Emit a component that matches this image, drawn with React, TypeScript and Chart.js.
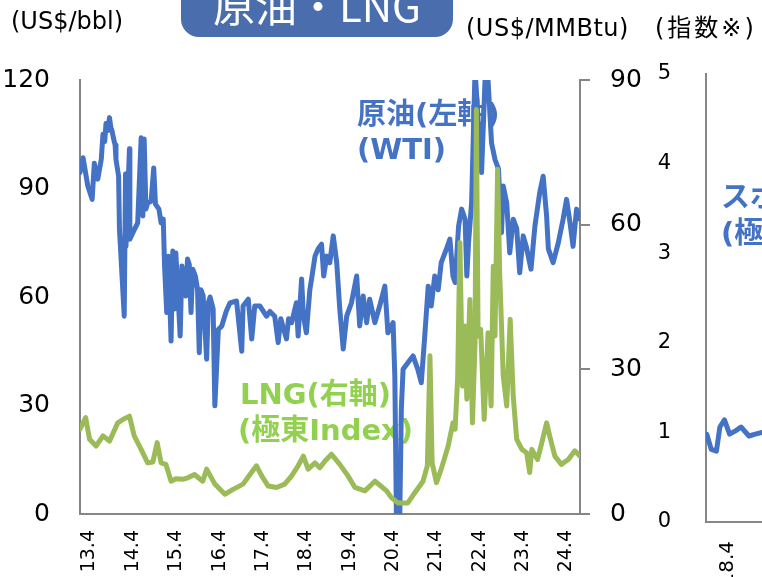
import React, { useEffect, useRef } from 'react';
import { Chart, registerables } from 'chart.js';
Chart.register(...registerables);

// ---------- data ----------
const xTickPositions = [13.25, 14.25, 15.25, 16.25, 17.25, 18.25, 19.25, 20.25, 21.25, 22.25, 23.25, 24.25];
const xTickLabels = ['13.4', '14.4', '15.4', '16.4', '17.4', '18.4', '19.4', '20.4', '21.4', '22.4', '23.4', '24.4'];

const wtiDates = [
  13.03, 13.10, 13.21, 13.31, 13.36, 13.44, 13.52, 13.56, 13.60, 13.63, 13.67, 13.71, 13.74, 13.77, 13.80,
  13.84, 13.86, 13.92, 13.94,
  14.05, 14.08, 14.09, 14.17, 14.18, 14.25, 14.36, 14.44, 14.48, 14.51, 14.55, 14.59, 14.67, 14.73, 14.77,
  14.85, 14.90, 14.95, 14.98, 15.03, 15.07, 15.13, 15.17, 15.21, 15.24, 15.34, 15.38, 15.47, 15.51, 15.55,
  15.59, 15.63, 15.69, 15.74, 15.78, 15.82, 15.87, 15.95, 15.99, 16.03, 16.10, 16.14, 16.22, 16.30, 16.40,
  16.49, 16.64, 16.76, 16.79, 16.91, 16.99, 17.06, 17.18, 17.33, 17.41, 17.52, 17.60, 17.66, 17.79, 17.84,
  17.91, 18.02, 18.06, 18.14, 18.18, 18.25, 18.33, 18.38, 18.45, 18.52, 18.60, 18.65, 18.72, 18.79, 18.87,
  18.95, 19.02, 19.10, 19.18, 19.29, 19.41, 19.48, 19.56, 19.64, 19.71, 19.83, 19.94, 20.06, 20.13, 20.25,
  20.29, 20.36, 20.44, 20.48, 20.59, 20.71, 20.82, 20.90, 20.98, 21.06, 21.13, 21.21, 21.29, 21.36, 21.48,
  21.56, 21.63, 21.68, 21.76, 21.83, 21.91, 21.95, 21.99, 22.06, 22.14, 22.22, 22.29, 22.37, 22.43, 22.52,
  22.60, 22.68, 22.75, 22.79, 22.87, 22.94, 23.02, 23.10, 23.17, 23.25, 23.32, 23.43, 23.52, 23.63, 23.71,
  23.79, 23.83, 23.94, 24.06, 24.17, 24.25, 24.33, 24.40, 24.48, 24.56,
];
const wtiValues = [
  94.4, 98.5, 90.7, 87, 97, 92.6, 98, 105, 103, 108, 106, 109.6, 107, 105.9, 104,
  102, 98, 93.4, 78.8,
  54.7, 94, 74, 101, 76, 77.8, 80.5, 104, 82.4, 103.7, 84.3, 86, 86.5, 95.7, 85.7,
  84.3, 80.5, 81.5, 68.6, 55.7, 71.3, 47.8, 72.7, 56.7, 72.2, 49.2, 68.6, 60.3, 70.5, 69,
  55.7, 67.7, 65.8, 62.2, 44.6, 62, 60.3, 42.8, 58.4, 60, 56.7, 29.9, 51, 52, 56,
  58.4, 58.9, 45, 57.5, 59.4, 48.4, 57.5, 57.5, 54.7, 56, 54.7, 47.4, 54, 48.4, 54,
  52.9, 58.4, 49.2, 65, 55, 50.1, 62, 65.8, 71.3, 73.3, 74.6, 65.8, 71.3, 69.5, 76.9,
  69.5, 56.7, 45.6, 54.7, 58.4, 65.8, 52, 60.3, 52.9, 59.4, 52.9, 57.5, 63, 50.1, 52.9,
  38, -37, 29, 40, 41.8, 43.7, 40, 36.3, 49.2, 63, 57.5, 65.8, 62, 69.5, 73.3,
  76, 65.8, 64, 79.6, 84.3, 81.5, 65.8, 75, 86, 123, 107, 94.4, 120, 122, 102.6,
  98, 95.4, 77.8, 90.7, 86, 72.2, 81.5, 79, 66.7, 76.9, 74, 67.7, 79.6, 88.8, 93.4,
  82.4, 73.3, 69.5, 75, 81.5, 87, 80.5, 74, 84.3, 81.5,
];

const lngDates = [
  13.03, 13.16, 13.25, 13.40, 13.56, 13.71, 13.90, 14.02, 14.17, 14.28, 14.44, 14.59, 14.71, 14.81, 14.90,
  15.01, 15.13, 15.24, 15.40, 15.52, 15.67, 15.86, 15.95, 16.14, 16.37, 16.56, 16.79, 16.95, 17.10, 17.22,
  17.37, 17.56, 17.75, 17.91, 18.06, 18.18, 18.29, 18.45, 18.56, 18.68, 18.83, 19.02, 19.21, 19.37, 19.60,
  19.83, 19.94, 20.10, 20.21, 20.36, 20.59, 20.75, 20.94, 21.04, 21.10, 21.15, 21.25, 21.36, 21.52, 21.63,
  21.68, 21.74, 21.79, 21.85, 21.91, 21.95, 22.02, 22.08, 22.14, 22.17, 22.21, 22.27, 22.35, 22.44, 22.51,
  22.56, 22.60, 22.66, 22.71, 22.79, 22.87, 22.95, 23.02, 23.10, 23.22, 23.33, 23.40, 23.45, 23.58, 23.66,
  23.79, 23.86, 23.98, 24.13, 24.29, 24.44, 24.56,
];
const lngValues = [
  17.6, 20, 15.5, 14.1, 16.2, 15.1, 18.9, 19.6, 20.3, 16.2, 13.4, 10.6, 10.8, 14.8, 10.6,
  10.3, 6.8, 7.3, 7.2, 7.5, 8.2, 6.8, 9.3, 6.2, 4.1, 5.1, 6.2, 8.2, 10, 7.9,
  5.8, 5.5, 6.2, 7.9, 10, 12, 9.3, 10.6, 9.6, 11, 12.4, 10.3, 7.9, 5.5, 4.8,
  6.8, 6, 4.8, 3.4, 2.3, 2.3, 4.4, 6.8, 10, 32.8, 10.6, 6.5, 9.3, 14.1, 18.9,
  17.6, 28.6, 56.3, 26.5, 39, 23.8, 44.5, 18.9, 35.5, 83.9, 36.9, 38.3, 19.6, 37.6, 22.4,
  51.4, 36.9, 71.5, 49.4, 28.6, 22.4, 40.4, 24.5, 15.5, 13.4, 12.7, 8.6, 13.4, 11.3, 14.1,
  18.9, 16.2, 12, 10.3, 11.3, 13.1, 12,
];

const idxTickPositions = [18.25, 19.25, 20.25, 21.25, 22.25];
const idxTickLabels = ['18.4', '19.4', '20.4', '21.4', '22.4'];
const idxDates = [17.88, 17.96, 18.05, 18.11, 18.19, 18.28, 18.39, 18.48, 18.62, 18.73, 18.85];
const idxValues = [0.98, 0.81, 0.79, 1.06, 1.14, 0.98, 1.02, 1.06, 0.96, 0.98, 1.0];

// ---------- styles ----------
const BLUE = '#4472C4';
const GREEN = '#9BBB59';
const GREEN_TEXT = '#92D050';
const AXIS = '#868686';
const NUM_FONT = '"DejaVu Sans", "Noto Sans CJK JP", sans-serif';
const JP_FONT = '"Noto Sans CJK JP", "DejaVu Sans", sans-serif';
const LABEL_FONT = `bold 29px "DejaVu Sans", "Noto Sans CJK JP", sans-serif`;

function drawText(ctx: CanvasRenderingContext2D, text: string, x: number, y: number, font: string, color: string, spacing = 0) {
  ctx.save();
  ctx.font = font;
  ctx.fillStyle = color;
  ctx.textAlign = 'left';
  ctx.textBaseline = 'middle';
  if (spacing) (ctx as any).letterSpacing = `${spacing}px`;
  ctx.fillText(text, x, y);
  ctx.restore();
}

const mainDecor = {
  id: 'mainDecor',
  beforeDatasetsDraw(chart: any) {
    const ctx = chart.ctx as CanvasRenderingContext2D;
    drawText(ctx, '原油(左軸)', 357, 116, LABEL_FONT, BLUE);
    drawText(ctx, '(WTI)', 357, 151, LABEL_FONT, BLUE);
    drawText(ctx, 'LNG(右軸)', 240, 396, LABEL_FONT, GREEN_TEXT);
    drawText(ctx, '(極東Index)', 238, 432, LABEL_FONT, GREEN_TEXT);
  },
  afterDraw(chart: any) {
    const ctx = chart.ctx as CanvasRenderingContext2D;
    ctx.save();
    ctx.fillStyle = '#4A6EAD';
    ctx.beginPath();
    (ctx as any).roundRect(181, -25, 272, 62, 18);
    ctx.fill();
    ctx.fillStyle = '#FFFFFF';
    ctx.font = `42px ${JP_FONT}`;
    ctx.textAlign = 'center';
    ctx.textBaseline = 'alphabetic';
    ctx.fillText('原油・LNG', 317, 22);
    ctx.restore();
    drawText(ctx, '(US$/bbl)', 11, 23, `24px ${NUM_FONT}`, '#000');
    drawText(ctx, '(US$/MMBtu)', 466, 30, `24px ${NUM_FONT}`, '#000', 0.5);
  },
};

const idxDecor = {
  id: 'idxDecor',
  beforeDatasetsDraw(chart: any) {
    const ctx = chart.ctx as CanvasRenderingContext2D;
    drawText(ctx, 'スポット', 121, 199, LABEL_FONT, BLUE);
    drawText(ctx, '(極東)', 121, 235, LABEL_FONT, BLUE);
  },
  afterDraw(chart: any) {
    const ctx = chart.ctx as CanvasRenderingContext2D;
    drawText(ctx, '(指数※)', 55, 30, `24px ${NUM_FONT}`, '#000', 3);
  },
};

export default function App() {
  const ref1 = useRef<HTMLCanvasElement | null>(null);
  const ref2 = useRef<HTMLCanvasElement | null>(null);

  useEffect(() => {
    document.body.style.margin = '0';
    const c1 = new Chart(ref1.current as HTMLCanvasElement, {
      type: 'line',
      data: {
        datasets: [
          {
            label: 'LNG',
            data: lngDates.map((d, i) => ({ x: d, y: lngValues[i] })),
            yAxisID: 'y2',
            borderColor: GREEN,
            borderWidth: 5,
            pointRadius: 0,
            tension: 0,
            borderJoinStyle: 'round',
            borderCapStyle: 'round',
          },
          {
            label: 'WTI',
            data: wtiDates.map((d, i) => ({ x: d, y: wtiValues[i] })),
            yAxisID: 'y',
            borderColor: BLUE,
            borderWidth: 5,
            pointRadius: 0,
            tension: 0,
            borderJoinStyle: 'round',
            borderCapStyle: 'round',
          },
        ],
      },
      options: {
        animation: false,
        responsive: false,
        devicePixelRatio: 1,
        layout: { padding: { top: 80, left: 0, right: 0, bottom: 0 } },
        plugins: { legend: { display: false }, tooltip: { enabled: false }, title: { display: false } },
        scales: {
          x: {
            type: 'linear',
            min: 13.03,
            max: 24.56,
            afterFit: (s: any) => { s.height = 63; },
            afterBuildTicks: (s: any) => { s.ticks = xTickPositions.map((v) => ({ value: v })); },
            grid: { display: false, drawTicks: false },
            border: { display: true, color: AXIS, width: 2 },
            ticks: {
              autoSkip: false,
              minRotation: 90,
              maxRotation: 90,
              padding: 16,
              color: '#000',
              font: { family: NUM_FONT, size: 19 },
              callback: (v: any) => xTickLabels[xTickPositions.indexOf(Number(v))] ?? '',
            },
          },
          y: {
            position: 'left',
            min: 0,
            max: 120,
            afterFit: (s: any) => { s.width = 80; },
            grid: { display: false, drawTicks: false },
            border: { display: true, color: AXIS, width: 2 },
            ticks: { stepSize: 30, padding: 30, color: '#000', font: { family: NUM_FONT, size: 25 } },
          },
          y2: {
            position: 'right',
            min: 0,
            max: 90,
            afterFit: (s: any) => { s.width = 182; },
            grid: { display: true, drawOnChartArea: false, drawTicks: true, tickLength: 10, color: AXIS, lineWidth: 2 },
            border: { display: true, color: AXIS, width: 2 },
            ticks: { stepSize: 30, padding: 20, color: '#000', font: { family: NUM_FONT, size: 25 } },
          },
        },
      },
      plugins: [mainDecor],
    } as any);

    const c2 = new Chart(ref2.current as HTMLCanvasElement, {
      type: 'line',
      data: {
        datasets: [
          {
            label: 'idx',
            data: idxDates.map((d, i) => ({ x: d, y: idxValues[i] })),
            borderColor: BLUE,
            borderWidth: 5,
            pointRadius: 0,
            tension: 0,
            borderJoinStyle: 'round',
            borderCapStyle: 'round',
          },
        ],
      },
      options: {
        animation: false,
        responsive: false,
        devicePixelRatio: 1,
        layout: { padding: { top: 74, left: 0, right: 10, bottom: 0 } },
        plugins: { legend: { display: false }, tooltip: { enabled: false }, title: { display: false } },
        scales: {
          x: {
            type: 'linear',
            min: 17.867,
            max: 22.6,
            afterFit: (s: any) => { s.height = 55; },
            afterBuildTicks: (s: any) => { s.ticks = idxTickPositions.map((v) => ({ value: v })); },
            grid: { display: false, drawTicks: false },
            border: { display: true, color: AXIS, width: 2 },
            ticks: {
              autoSkip: false,
              minRotation: 90,
              maxRotation: 90,
              padding: 19,
              color: '#000',
              font: { family: NUM_FONT, size: 20 },
              callback: (v: any) => idxTickLabels[idxTickPositions.indexOf(Number(v))] ?? '',
            },
          },
          y: {
            position: 'left',
            min: 0,
            max: 5,
            afterFit: (s: any) => { s.width = 106; },
            grid: { display: false, drawTicks: false },
            border: { display: true, color: AXIS, width: 2 },
            ticks: { stepSize: 1, padding: 35, color: '#000', font: { family: NUM_FONT, size: 21 } },
          },
        },
      },
      plugins: [idxDecor],
    } as any);

    return () => {
      c1.destroy();
      c2.destroy();
    };
  }, []);

  return (
    <div style={{ position: 'relative', width: 762, height: 577, overflow: 'hidden', background: '#fff' }}>
      <canvas ref={ref1} width={762} height={577} style={{ position: 'absolute', left: 0, top: 0, width: 762, height: 577 }} />
      <canvas ref={ref2} width={400} height={577} style={{ position: 'absolute', left: 600, top: 0, width: 400, height: 577 }} />
    </div>
  );
}
